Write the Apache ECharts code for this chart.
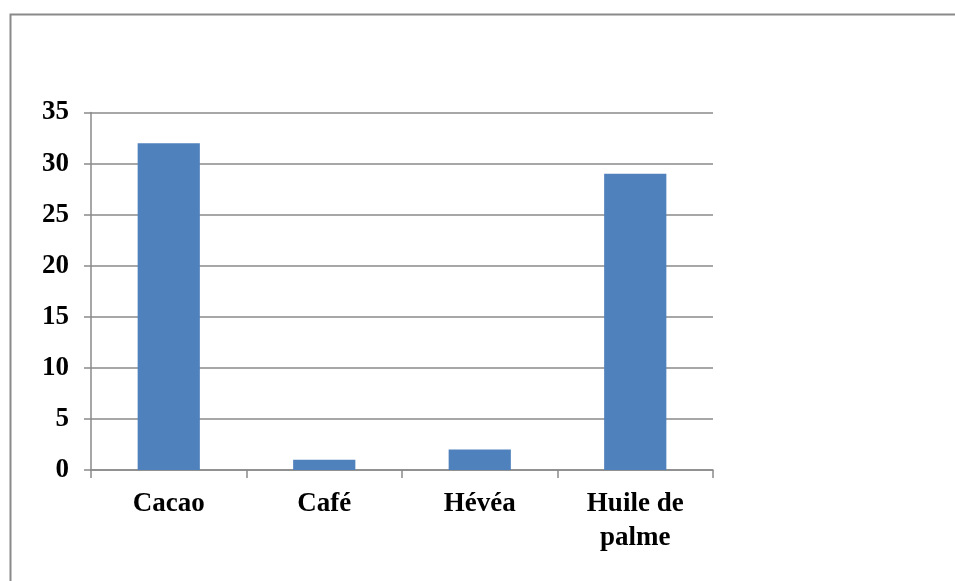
<!DOCTYPE html>
<html>
<head>
<meta charset="utf-8">
<script src="https://cdn.jsdelivr.net/npm/echarts@6/dist/echarts.min.js"></script>
<style>
  html, body { margin: 0; padding: 0; background: #fff; }
  #chart { width: 955px; height: 581px; }
</style>
</head>
<body>
<div id="chart"></div>
<script>
// Crop categories and their values
const categories = ['Cacao', 'Café', 'Hévéa', 'Huile de\npalme'];
const values = [32, 1, 2, 29];
// Value axis range
const yMin = 0;
const yMax = 35;
const yStep = 5;

const gray = '#8a8a8a';
const font = '"Liberation Serif", "Times New Roman", serif';

const chart = echarts.init(document.getElementById('chart'), null, { renderer: 'canvas' });
chart.setOption({
  animation: false,
  backgroundColor: '#ffffff',
  graphic: [{
    type: 'rect',
    left: 8, top: 12,
    shape: { width: 980, height: 620 },
    style: { fill: 'none', stroke: gray, lineWidth: 2 },
    silent: true
  }],
  grid: { left: 91, right: 242, top: 112.5, bottom: 111, containLabel: false },
  xAxis: {
    type: 'category',
    data: categories,
    axisLine: { show: true, lineStyle: { color: gray, width: 1.5 } },
    axisTick: { show: true, alignWithLabel: false, length: 8, lineStyle: { color: gray, width: 1.5 } },
    axisLabel: {
      color: '#000', fontFamily: font, fontWeight: 'bold', fontSize: 27,
      margin: 17, lineHeight: 34, interval: 0
    },
    splitLine: { show: false }
  },
  yAxis: {
    type: 'value',
    min: yMin, max: yMax, interval: yStep,
    axisLine: { show: true, lineStyle: { color: gray, width: 1.5 } },
    axisTick: { show: true, length: 7, lineStyle: { color: gray, width: 1.5 } },
    axisLabel: {
      color: '#000', fontFamily: font, fontWeight: 'bold', fontSize: 27, margin: 22
    },
    splitLine: { show: true, lineStyle: { color: gray, width: 1.5 } }
  },
  series: [{
    type: 'bar',
    data: values,
    barWidth: '40%',
    itemStyle: { color: '#4f81bd' }
  }]
});
</script>
</body>
</html>
